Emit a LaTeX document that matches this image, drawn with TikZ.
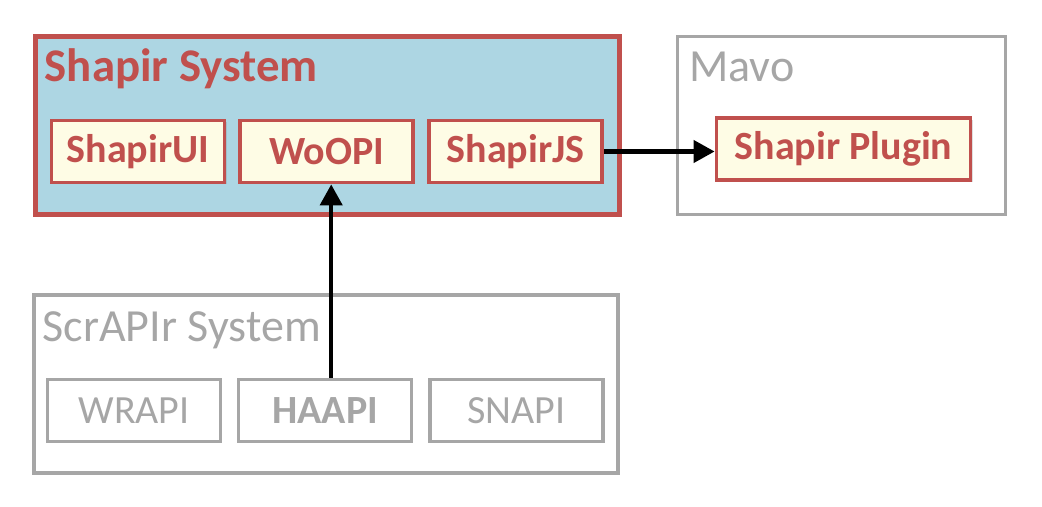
\documentclass[tikz,border=0pt]{standalone}
\usepackage{fontspec}
\setmainfont{Carlito}
\usetikzlibrary{positioning,arrows.meta,shadows}

\definecolor{shapred}{HTML}{C0504D}
\definecolor{shapblue}{HTML}{ADD6E3}
\definecolor{shapyellow}{HTML}{FEFCE5}
\definecolor{scrgray}{HTML}{A6A6A6}

\begin{document}
\begin{tikzpicture}[x=0.5pt,y=-0.5pt]
  \tikzstyle{sysbox}=[
    draw, rectangle,
    minimum width=292pt,
    minimum height=89pt
  ]
  \tikzstyle{shapsys}=[sysbox, draw=shapred, fill=shapblue, line width=2.1pt]
  \tikzstyle{graysys}=[sysbox, draw=scrgray, line width=1.75pt]
  \tikzstyle{systitle}=[inner sep=0pt, anchor=base west,
    font=\fontsize{23}{27}\selectfont
  ]
  \tikzstyle{comp}=[
    draw, rectangle,
    line width=1.9pt,
    minimum width=86.5pt,
    minimum height=31pt,
    font=\fontsize{20}{24}\selectfont
  ]
  \tikzstyle{shapcomp}=[comp, draw=shapred, fill=shapyellow, text=shapred,
    font=\fontsize{20}{24}\selectfont\bfseries,
    drop shadow={opacity=0.25, shadow xshift=1pt, shadow yshift=-1pt}
  ]
  \tikzstyle{graycomp}=[comp, draw=scrgray, text=scrgray, line width=1.6pt]
  \tikzstyle{conn}=[draw, line width=2.1pt,
    -{Triangle[length=10.5pt,width=11pt]}
  ]

  \useasboundingbox (0,0) rectangle (1042,507);

  % containers
  \node[shapsys] (shapir) at (327.5,125.5) {};
  \node[graysys, minimum width=164pt] (mavo) at (841.5,125.5) {};
  \node[graysys] (scrapir) at (326,384) {};

  \node[systitle, text=shapred, font=\fontsize{23.4}{27}\selectfont\bfseries]
    (shapirtitle) at ([shift={(11,47)}]shapir.north west) {Shapir System};
  \node[systitle, text=scrgray] (mavotitle) at ([shift={(13,47)}]mavo.north west) {Mavo};
  \node[systitle, text=scrgray] (scrapirtitle) at ([shift={(10,48)}]scrapir.north west) {ScrAPIr System};

  % Shapir components
  \node[shapcomp] (shapirui) at (138,151.5) {ShapirUI};
  \node[shapcomp, right=6pt of shapirui] (woopi) {WoOPI};
  \node[shapcomp, right=6pt of woopi] (shapirjs) {ShapirJS};
  \node[shapcomp, minimum width=127pt] (plugin) at (843.5,149) {Shapir Plugin};

  % ScrAPIr components
  \node[graycomp] (wrapi) at (134,410.5) {WRAPI};
  \node[graycomp, right=7.5pt of wrapi, font=\fontsize{20}{24}\selectfont\bfseries] (haapi) {HAAPI};
  \node[graycomp, right=7.5pt of haapi] (snapi) {SNAPI};

  % connectors
  \draw[conn] (shapirjs.east) -- (shapirjs.east -| plugin.west);
  \draw[conn] ([xshift=3pt]haapi.north) -- ([xshift=3pt]haapi.north |- woopi.south);
\end{tikzpicture}
\end{document}
